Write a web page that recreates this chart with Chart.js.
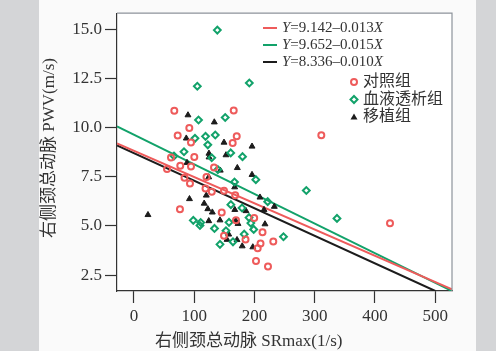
<!DOCTYPE html>
<html>
<head>
<meta charset="utf-8">
<script src="https://cdn.jsdelivr.net/npm/chart.js@4.4.1/dist/chart.umd.min.js"></script>
<style>
  html, body { margin: 0; padding: 0; background: #d4d5d7; }
  #wrap { width: 496px; height: 351px; }
</style>
</head>
<body>
<div id="wrap"><canvas id="myChart" width="496" height="351"></canvas></div>
<script>
// 对照组 (x = SRmax, y = PWV)
var ctrlX = [66.9, 165.5, 91.8, 72.5, 94.6, 170.5, 163.8, 100.1, 61.4, 76.8, 94.6, 54.8, 132.8, 83.8, 120.3, 92.9, 118.7,
  129.1, 149.4, 168.0, 76.3, 145.6, 199.5, 169.3, 213.3, 149.4, 185.1, 231.2, 210.0, 205.3, 202.5, 222.4, 310.9, 424.9];
var ctrlY = [10.85, 10.86, 9.97, 9.60, 9.24, 9.55, 9.21, 8.50, 8.48, 8.05, 8.02, 7.89, 7.97, 7.45, 7.49, 7.15, 6.90,
  6.73, 6.78, 6.56, 5.85, 5.68, 5.40, 5.28, 4.68, 4.50, 4.31, 4.20, 4.11, 3.86, 3.21, 2.93, 9.61, 5.13];

// 血液透析组
var hdX = [138.3, 105.1, 191.4, 107.1, 151.4, 101.2, 118.7, 134.9, 122.5, 83.0, 66.4, 129.0, 160.5, 180.1, 139.1, 202.2, 166.8,
  221.9, 160.8, 179.3, 190.9, 98.4, 110.7, 109.5, 193.9, 133.6, 198.7, 152.7, 157.7, 182.9, 164.3, 142.7, 286.0, 336.9, 248.1];
var hdY = [14.95, 12.10, 12.26, 10.38, 10.51, 9.45, 9.55, 9.62, 9.12, 8.77, 8.55, 8.46, 8.71, 8.52, 7.86, 7.35, 7.23,
  6.23, 6.08, 5.91, 5.42, 5.28, 5.17, 5.02, 5.14, 4.87, 4.82, 4.75, 5.18, 4.58, 4.19, 4.06, 6.80, 5.38, 4.45];

// 移植组
var txX = [89.6, 133.3, 86.8, 149.4, 195.9, 124.4, 124.6, 152.7, 88.0, 143.2, 171.5, 195.9, 124.0, 167.1, 209.1, 232.9, 92.1,
  116.5, 120.0, 122.5, 130.0, 215.8, 185.9, 167.3, 142.7, 124.1, 168.8, 172.6, 217.4, 157.2, 154.4, 171.0, 179.6, 197.2, 23.2];
var txY = [10.63, 10.27, 9.45, 9.24, 9.04, 8.68, 8.49, 8.60, 8.21, 7.82, 7.95, 7.60, 7.48, 6.97, 6.45, 5.98, 6.37,
  6.14, 6.55, 5.86, 5.69, 5.82, 5.76, 5.82, 5.29, 5.25, 5.26, 5.11, 5.09, 4.57, 4.30, 4.29, 3.97, 3.92, 5.56];

// fitted lines, end points as drawn
var ctrlFitX = [-28.2, 527.8], ctrlFitY = [9.19, 1.78];
var hdFitX = [-28.2, 527.8], hdFitY = [10.06, 1.69];
var txFitX = [-28.2, 500], txFitY = [9.09, 1.69];

var xTicks = [0, 100, 200, 300, 400, 500];
var yTicks = [2.5, 5.0, 7.5, 10.0, 12.5, 15.0];

var groupNames = ['对照组', '血液透析组', '移植组'];
var fitLabels = ['9.142–0.013', '9.652–0.015', '8.336–0.010'];
var xTitle = '右侧颈总动脉 SRmax(1/s)';
var yTitle = '右侧颈总动脉 PWV(m/s)';

var RED = '#ee5b5b', GREEN = '#12a26a', BLACK = '#1c1c1c';
var serif = '"Liberation Serif", "Noto Sans CJK SC", serif';

function pts(xs, ys) {
  return xs.map(function (x, i) { return { x: x, y: ys[i] }; });
}

function marker(ctx, kind, x, y) {
  ctx.save();
  ctx.lineWidth = 2;
  if (kind == 0) {
    ctx.strokeStyle = RED;
    ctx.beginPath(); ctx.arc(x, y, 3, 0, Math.PI * 2); ctx.stroke();
  } else if (kind == 1) {
    ctx.strokeStyle = GREEN;
    ctx.beginPath();
    ctx.moveTo(x, y - 3.5); ctx.lineTo(x + 3.5, y); ctx.lineTo(x, y + 3.5); ctx.lineTo(x - 3.5, y);
    ctx.closePath(); ctx.stroke();
  } else {
    ctx.fillStyle = BLACK;
    ctx.beginPath();
    ctx.moveTo(x, y - 3.5); ctx.lineTo(x + 3.5, y + 2.5); ctx.lineTo(x - 3.5, y + 2.5);
    ctx.closePath(); ctx.fill();
  }
  ctx.restore();
}

var decor = {
  id: 'decor',
  beforeDraw: function (chart) {
    var c = chart.ctx, a = chart.chartArea;
    c.save();
    c.fillStyle = '#d4d5d7';
    c.fillRect(0, 0, 496, 351);
    c.fillStyle = '#fafafa';
    c.fillRect(39, 0, 437, 351);
    c.fillStyle = '#ffffff';
    c.fillRect(a.left, a.top, a.right - a.left, a.bottom - a.top);
    c.restore();
  },
  afterDraw: function (chart) {
    var c = chart.ctx, a = chart.chartArea;
    c.save();
    // top + right frame
    c.strokeStyle = '#8d939b';
    c.lineWidth = 1.2;
    c.beginPath();
    c.moveTo(a.left, a.top); c.lineTo(a.right, a.top); c.lineTo(a.right, a.bottom);
    c.stroke();

    // line legend
    var cols = [RED, GREEN, BLACK];
    c.textBaseline = 'middle';
    for (var i = 0; i < 3; i++) {
      var y = 28 + i * 17;
      c.strokeStyle = cols[i];
      c.lineWidth = 2;
      c.beginPath(); c.moveTo(263, y); c.lineTo(277, y); c.stroke();
      var x = 282;
      c.fillStyle = '#333';
      c.font = 'italic 15px ' + serif;
      c.fillText('Y', x, y); x += c.measureText('Y').width;
      c.font = '15px ' + serif;
      var s = '=' + fitLabels[i];
      c.fillText(s, x, y); x += c.measureText(s).width;
      c.font = 'italic 15px ' + serif;
      c.fillText('X', x, y);
    }

    // marker legend
    c.font = '16px ' + serif;
    for (var j = 0; j < 3; j++) {
      var yy = 82 + j * 17.5;
      marker(c, j, 354, yy);
      c.fillStyle = '#333';
      c.fillText(groupNames[j], 363, yy);
    }

    // axis titles
    c.font = '17px ' + serif;
    c.fillStyle = '#333';
    c.textAlign = 'left';
    c.fillText(xTitle, 155, 342);
    c.translate(50, 148);
    c.rotate(-Math.PI / 2);
    c.textAlign = 'center';
    c.fillText(yTitle, 0, 0);
    c.restore();
  }
};

var tickFont = { family: serif, size: 17 };

new Chart(document.getElementById('myChart'), {
  type: 'scatter',
  data: {
    datasets: [
      { label: groupNames[0], data: pts(ctrlX, ctrlY), pointStyle: 'circle', pointRadius: 3,
        borderColor: RED, backgroundColor: 'rgba(255,255,255,0)', borderWidth: 2 },
      { label: groupNames[1], data: pts(hdX, hdY), pointStyle: 'rectRot', pointRadius: 3.4,
        borderColor: GREEN, backgroundColor: 'rgba(255,255,255,0)', borderWidth: 2 },
      { label: groupNames[2], data: pts(txX, txY), pointStyle: 'triangle', pointRadius: 3.4,
        borderColor: BLACK, backgroundColor: BLACK, borderWidth: 1 },
      { data: pts(ctrlFitX, ctrlFitY), showLine: true, pointRadius: 0, borderColor: RED, borderWidth: 2 },
      { data: pts(hdFitX, hdFitY), showLine: true, pointRadius: 0, borderColor: GREEN, borderWidth: 2 },
      { data: pts(txFitX, txFitY), showLine: true, pointRadius: 0, borderColor: BLACK, borderWidth: 2 }
    ]
  },
  options: {
    responsive: false,
    animation: false,
    layout: { padding: { left: 0, top: 13, right: 44, bottom: 0 } },
    plugins: { legend: { display: false }, tooltip: { enabled: false } },
    scales: {
      x: {
        min: -28.2, max: 527.8,
        afterBuildTicks: function (s) { s.ticks = xTicks.map(function (v) { return { value: v }; }); },
        afterFit: function (s) { s.height = 60; },
        grid: { drawOnChartArea: false, tickLength: 12, color: '#333', tickWidth: 1.2 },
        border: { color: '#333', width: 1.2 },
        ticks: { font: tickFont, color: '#333', padding: 3, maxRotation: 0 }
      },
      y: {
        min: 1.69, max: 15.81,
        afterBuildTicks: function (s) { s.ticks = yTicks.map(function (v) { return { value: v }; }); },
        afterFit: function (s) { s.width = 117; },
        grid: { drawOnChartArea: false, tickLength: 12, color: '#333', tickWidth: 1.2 },
        border: { color: '#333', width: 1.2 },
        ticks: { font: tickFont, color: '#333', padding: 3,
          callback: function (v) { return v.toFixed(1); } }
      }
    }
  },
  plugins: [decor]
});
</script>
</body>
</html>
